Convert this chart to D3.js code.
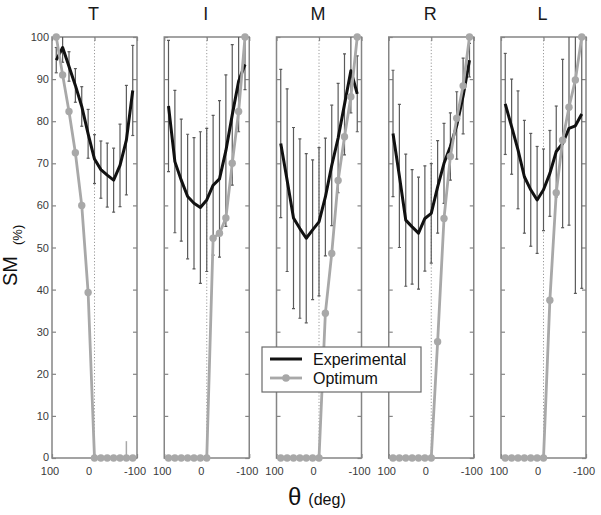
<!DOCTYPE html>
<html>
<head>
<meta charset="utf-8">
<script src="https://cdn.jsdelivr.net/npm/d3@7"></script>
<style>
  body { margin: 0; background: #fff; }
  svg { display: block; font-family: "Liberation Sans", Arial, sans-serif; }
</style>
</head>
<body>
<svg id="chart" width="601" height="515"></svg>
<script>
// ---- data ----
const theta = [90, 75, 60, 45, 30, 15, 0, -15, -30, -45, -60, -75, -90];
const panelNames = ["T", "I", "M", "R", "L"];
const xTicks = [100, 0, -100];
const yTicks = [0, 10, 20, 30, 40, 50, 60, 70, 80, 90, 100];

const expT = [94.5, 97.5, 93, 88.5, 83.5, 77, 71, 68.5, 67.2, 66, 69.5, 75.5, 87.3];
const errT = [3, 3.5, 3.5, 4, 4.7, 5.8, 5.8, 6.8, 7.6, 7.6, 9.8, 13, 10.7];
const optT = [100, 91, 82.3, 72.5, 60, 39.3, 0, 0, 0, 0, 0, 0, 0];
const optErrT = [0, 0, 0, 0, 0, 0, 0, 0, 0, 0, 0, 4, 0];

const expI = [83.6, 70.4, 66, 62.1, 60.5, 59.5, 61.3, 64.8, 66.3, 73, 81.5, 89.5, 93.5];
const errI = [15.6, 16.9, 14.5, 14.8, 15.6, 18, 17, 16.6, 18.6, 18, 16.7, 12, 6];
const optI = [0, 0, 0, 0, 0, 0, 0, 52.2, 53.4, 57, 70, 82.3, 100];

const expM = [74.7, 66, 57, 54.5, 52.2, 54.2, 56.1, 62, 69.5, 76, 84, 92, 86.5];
const errM = [17.6, 21.7, 21.5, 21.3, 20.1, 16.6, 17.6, 14, 14.3, 13, 12, 10, 9];
const optM = [0, 0, 0, 0, 0, 0, 0, 34.4, 48.6, 65.9, 76.3, 85.8, 100];

const expR = [77.1, 67, 56.5, 54.9, 53.4, 56.9, 58.1, 64.4, 70, 74, 79, 86, 94.5];
const errR = [15, 17, 15.7, 13.6, 13.3, 12.5, 11.8, 11, 9.5, 8, 8, 9, 4];
const optR = [0, 0, 0, 0, 0, 0, 0, 27.6, 56.9, 71.6, 80.7, 88.4, 100];

const expL = [84.1, 78.7, 73.2, 66.8, 63.7, 61.3, 63.7, 67.6, 72.8, 74.7, 78.3, 78.9, 81.7];
const errL = [12, 11.3, 14, 13.4, 13.4, 12.7, 9.7, 10.2, 10.8, 20, 23, 39.8, 41.4];
const optL = [0, 0, 0, 0, 0, 0, 0, 37.5, 63, 75.5, 83.3, 89.8, 100];

const seriesExp = [expT, expI, expM, expR, expL];
const seriesErr = [errT, errI, errM, errR, errL];
const seriesOpt = [optT, optI, optM, optR, optL];
const seriesOptErr = [optErrT, null, null, null, null];

// ---- layout ----
const svg = d3.select("#chart");
const plotTop = 37, plotBottom = 458, panelW = 85, firstX = 52, step = 112.25;
const y = d3.scaleLinear().domain([0, 100]).range([plotBottom, plotTop]);

const frameColor = "#858585";
const errColor = "#5a5a5a";
const grayColor = "#a8a8a8";

panelNames.forEach((name, k) => {
  const x0 = firstX + k * step;
  const x = d3.scaleLinear().domain([100, -100]).range([x0, x0 + panelW]);
  const g = svg.append("g");

  const clipId = "clip" + k;
  svg.append("clipPath").attr("id", clipId)
    .append("rect").attr("x", x0).attr("y", plotTop).attr("width", panelW).attr("height", plotBottom - plotTop);

  g.append("line")
    .attr("x1", x(0)).attr("x2", x(0)).attr("y1", plotTop).attr("y2", plotBottom)
    .attr("stroke", "#9a9a9a").attr("stroke-width", 1).attr("stroke-dasharray", "1.2,2");

  const left = g.append("g").attr("transform", `translate(${x0},0)`)
    .call(d3.axisLeft(y).tickValues(yTicks).tickSizeInner(-4).tickSizeOuter(0).tickPadding(3)
      .tickFormat(k === 0 ? d3.format("d") : () => ""));
  const right = g.append("g").attr("transform", `translate(${x0 + panelW},0)`)
    .call(d3.axisRight(y).tickValues(yTicks).tickSizeInner(-4).tickSizeOuter(0).tickFormat(() => ""));
  const bot = g.append("g").attr("transform", `translate(0,${plotBottom})`)
    .call(d3.axisBottom(x).tickValues(xTicks).tickSizeInner(-4).tickSizeOuter(0).tickPadding(9)
      .tickFormat(d => String(d)));
  const topAx = g.append("g").attr("transform", `translate(0,${plotTop})`)
    .call(d3.axisTop(x).tickValues(xTicks).tickSizeInner(-4).tickSizeOuter(0).tickFormat(() => ""));
  [left, right, bot, topAx].forEach(a => {
    a.select(".domain").remove();
    a.selectAll(".tick line").attr("stroke", frameColor).attr("stroke-width", 1.2);
    a.selectAll(".tick text").attr("fill", "#3a3a3a").style("font-size", "11px")
      .style("font-family", "'Liberation Sans', Arial, sans-serif");
  });
  left.selectAll(".tick text").attr("dy", d => d === 0 ? "0.2em" : "0.32em");
  bot.selectAll(".tick text").attr("dx", d => d === 0 ? -6 : -2.5);

  g.append("rect").attr("x", x0).attr("y", plotTop).attr("width", panelW).attr("height", plotBottom - plotTop)
    .attr("fill", "none").attr("stroke", frameColor).attr("stroke-width", 1.5);

  g.append("text").attr("x", x(0) - 1).attr("y", 20).attr("text-anchor", "middle")
    .style("font-size", "18px").attr("fill", "#1a1a1a").text(name);

  const clipped = g.append("g").attr("clip-path", `url(#${clipId})`);
  const exp = seriesExp[k], err = seriesErr[k], opt = seriesOpt[k];

  const eb = clipped.append("g").attr("stroke", errColor).attr("stroke-width", 1.2);
  theta.forEach((t, i) => {
    const cx = x(t), y1 = y(exp[i] + err[i]), y2 = y(exp[i] - err[i]);
    eb.append("line").attr("x1", cx).attr("x2", cx).attr("y1", y1).attr("y2", y2);
    eb.append("line").attr("x1", cx - 1.5).attr("x2", cx + 1.5).attr("y1", y1).attr("y2", y1);
    eb.append("line").attr("x1", cx - 1.5).attr("x2", cx + 1.5).attr("y1", y2).attr("y2", y2);
  });

  const line = d3.line().x((d, i) => x(theta[i])).y(d => y(d));
  clipped.append("path").datum(exp).attr("d", line)
    .attr("fill", "none").attr("stroke", "#111").attr("stroke-width", 3).attr("stroke-linejoin", "round");

  const oe = seriesOptErr[k];
  if (oe) {
    theta.forEach((t, i) => {
      if (oe[i] > 0) {
        g.append("line").attr("x1", x(t)).attr("x2", x(t))
          .attr("y1", y(opt[i])).attr("y2", y(opt[i] + oe[i]))
          .attr("stroke", grayColor).attr("stroke-width", 1.5);
      }
    });
  }
  g.append("path").datum(opt).attr("d", line)
    .attr("fill", "none").attr("stroke", grayColor).attr("stroke-width", 2.8).attr("stroke-linejoin", "round");
  g.append("g").selectAll("circle").data(opt).join("circle")
    .attr("cx", (d, i) => x(theta[i])).attr("cy", d => y(d)).attr("r", 3.7)
    .attr("fill", grayColor);
});

const yl = svg.append("text").attr("transform", "translate(17,286) rotate(-90)")
  .attr("fill", "#111");
yl.append("tspan").style("font-size", "20px").text("SM");
yl.append("tspan").style("font-size", "13px").attr("dx", 11).attr("dy", 5).text("(%)");

const xl = svg.append("text").attr("x", 288).attr("y", 505).attr("fill", "#111");
xl.append("tspan").style("font-size", "24px").text("θ");
xl.append("tspan").style("font-size", "16px").attr("dx", 7).text("(deg)");

const lg = svg.append("g");
lg.append("rect").attr("x", 262).attr("y", 347).attr("width", 159).attr("height", 45)
  .attr("fill", "#fff").attr("stroke", "#6a6a6a").attr("stroke-width", 1.2);
lg.append("line").attr("x1", 270).attr("x2", 302).attr("y1", 359).attr("y2", 359)
  .attr("stroke", "#111").attr("stroke-width", 3);
lg.append("line").attr("x1", 270).attr("x2", 302).attr("y1", 378).attr("y2", 378)
  .attr("stroke", grayColor).attr("stroke-width", 2.8);
lg.append("circle").attr("cx", 286).attr("cy", 378).attr("r", 3.8).attr("fill", grayColor);
lg.append("text").attr("x", 313).attr("y", 364.5).style("font-size", "16px").attr("fill", "#111").text("Experimental");
lg.append("text").attr("x", 313).attr("y", 384).style("font-size", "16px").attr("fill", "#111").text("Optimum");
</script>
</body>
</html>
